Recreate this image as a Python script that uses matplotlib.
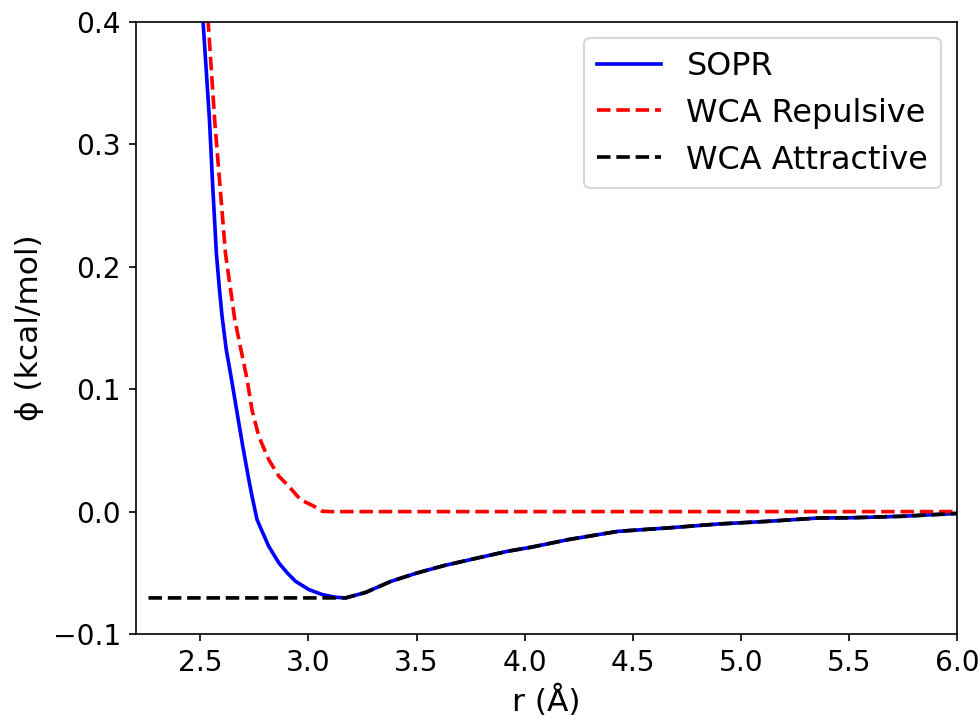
import matplotlib
matplotlib.use('Agg')
import matplotlib.pyplot as plt

# SOPR pair potential (kcal/mol) vs r (Angstrom)
r_sopr = [2.48, 2.5125, 2.542, 2.557, 2.574, 2.588, 2.600, 2.620, 2.644, 2.670,
          2.696, 2.724, 2.739, 2.762, 2.782, 2.816, 2.863, 2.902, 2.940, 3.002,
          3.064, 3.126, 3.172, 3.265, 3.381, 3.503, 3.627, 3.782, 3.921, 4.030,
          4.201, 4.433, 4.665, 4.897, 5.129, 5.361, 5.515, 5.747, 6.0]
phi_sopr = [0.50, 0.40, 0.320, 0.266, 0.211, 0.182, 0.160, 0.132, 0.108, 0.0806,
            0.0534, 0.0261, 0.0125, -0.0065, -0.0147, -0.0283, -0.0419, -0.0501, -0.0569, -0.0637,
            -0.0678, -0.0700, -0.0705, -0.066, -0.057, -0.0501, -0.0441, -0.0379, -0.0324, -0.0291,
            -0.0229, -0.0161, -0.0133, -0.0101, -0.0079, -0.0052, -0.0050, -0.0038, -0.0015]

# WCA repulsive part
r_rep = [2.50, 2.536, 2.566, 2.616, 2.659, 2.716, 2.739, 2.770, 2.816, 2.863,
         2.909, 2.963, 3.025, 3.064, 3.10, 6.0]
phi_rep = [0.52, 0.40, 0.32, 0.211, 0.157, 0.108, 0.083, 0.0616, 0.0425, 0.0289,
           0.0207, 0.0098, 0.0044, 0.0003, 0.0, 0.0]

# WCA attractive part
r_att = [2.26, 3.172, 3.265, 3.381, 3.503, 3.627, 3.782, 3.921, 4.030, 4.201,
         4.433, 4.665, 4.897, 5.129, 5.361, 5.515, 5.747, 6.0]
phi_att = [-0.0705, -0.0705, -0.066, -0.057, -0.0501, -0.0441, -0.0379, -0.0324, -0.0291, -0.0229,
           -0.0161, -0.0133, -0.0101, -0.0079, -0.0052, -0.0050, -0.0038, -0.0015]

fig = plt.figure(figsize=(980 / 150, 719 / 150), dpi=150)
ax = fig.add_axes([0.1383, 0.1182, 0.8382, 0.8512])

ax.plot(r_sopr, phi_sopr, color='blue', lw=1.75, label='SOPR')
ax.plot(r_rep, phi_rep, color='red', lw=1.75, ls='--', label='WCA Repulsive')
ax.plot(r_att, phi_att, color='black', lw=1.75, ls='--', label='WCA Attractive')

ax.set_xlim(2.2, 6.0)
ax.set_ylim(-0.1, 0.4)
ax.set_xticks([2.5, 3.0, 3.5, 4.0, 4.5, 5.0, 5.5, 6.0])
ax.set_yticks([-0.1, 0.0, 0.1, 0.2, 0.3, 0.4])
ax.tick_params(labelsize=13.5)
ax.set_xlabel('r (Å)', fontsize=15)
ax.set_ylabel('ϕ (kcal/mol)', fontsize=15)
ax.legend(loc='upper right', fontsize=15.3)

fig.savefig('out.png', dpi=150)
